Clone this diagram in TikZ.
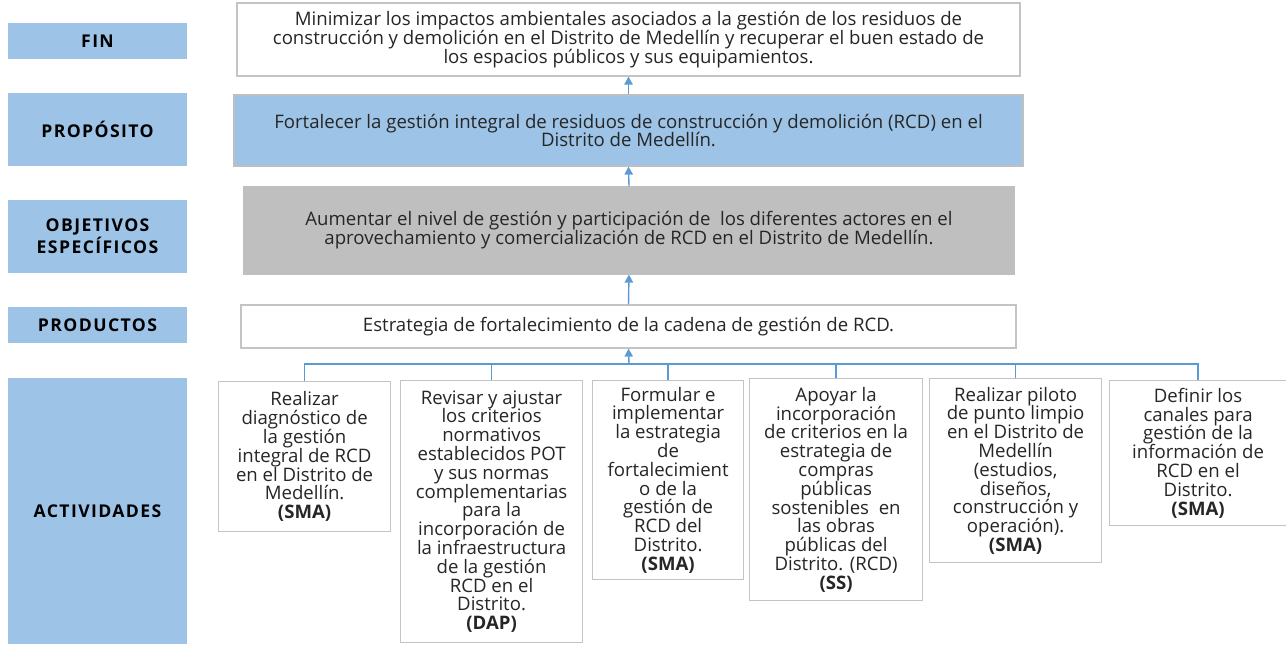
\documentclass[tikz,border=0pt]{standalone}
\usepackage{fontspec}
\setmainfont{Open Sans}
\newfontfamily\etiqfont[LetterSpace=8]{Open Sans}
\usepackage{xcolor}
\usepackage{tikz}
\usetikzlibrary{arrows.meta,positioning}
\definecolor{azulx}{HTML}{9DC3E6}
\definecolor{lineax}{HTML}{5B9BD5}
\definecolor{grisx}{HTML}{BFBFBF}
\definecolor{bordex}{HTML}{C4C4C4}
\definecolor{textox}{HTML}{262626}
\tikzset{
  flecha/.style={-{Triangle[length=4pt,width=4.2pt]},line width=0.7pt,lineax},
  linea/.style={line width=0.7pt,lineax},
  etiqueta/.style={fill=azulx,align=center,inner sep=0pt,minimum width=89.5pt,
    font=\etiqfont\bfseries\fontsize{8.8}{11}\selectfont,text=black},
  caja/.style={draw=bordex,line width=0.6pt,fill=white,align=center,inner sep=2pt,
    font=\fontsize{9.3}{9.4}\selectfont,text=textox},
  actividad/.style={caja,anchor=north west}
}
\begin{document}
\begin{tikzpicture}[x=0.5pt,y=-0.5pt]
\useasboundingbox (0,0) rectangle (1286,644);
% columna de niveles
\node[etiqueta,minimum height=18pt] (lfin) at (97.5,41) {FIN};
\node[etiqueta,minimum height=36.5pt] (lprop) at (97.5,129.5) {PROPÓSITO};
\node[etiqueta,minimum height=36.5pt] (lobj) at (97.5,236.5) {OBJETIVOS\\ESPECÍFICOS};
\node[etiqueta,minimum height=18pt] (lprod) at (97.5,325) {PRODUCTOS};
\node[etiqueta,minimum height=133pt] (lact) at (97.5,511) {ACTIVIDADES};
% cajas principales
\node[caja,minimum width=391.5pt,minimum height=36.5pt] (fin) at (628.5,39.5)
  {Minimizar los impactos ambientales asociados a la gestión de los residuos de\\
   construcción y demolición en el Distrito de Medellín y recuperar el buen estado de\\
   los espacios públicos y sus equipamientos.};
\node[caja,fill=azulx,draw=grisx,minimum width=394.5pt,minimum height=35.5pt] (prop) at (628.5,130.5)
  {Fortalecer la gestión integral de residuos de construcción y demolición (RCD) en el\\
   Distrito de Medellín.};
\node[caja,fill=grisx,draw=grisx,minimum width=385pt,minimum height=43.5pt] (obj) at (629,230.5)
  {Aumentar el nivel de gestión y participación de \ los diferentes actores en el\\
   aprovechamiento y comercialización de RCD en el Distrito de Medellín.};
\node[caja,minimum width=387.5pt,minimum height=21.5pt] (prod) at (628.5,326.5)
  {Estrategia de fortalecimiento de la cadena de gestión de RCD.};
% actividades
\node[actividad,minimum width=86pt,minimum height=75pt] (a1) at (218,381)
  {Realizar\\diagnóstico de\\la gestión\\integral de RCD\\en el Distrito de\\Medellín.\\\textbf{(SMA)}};
\node[actividad,minimum width=91pt,minimum height=131pt] (a2) at (400,380)
  {Revisar y ajustar\\los criterios\\normativos\\establecidos POT\\y sus normas\\complementarias\\para la\\
   incorporación de\\la infraestructura\\de la gestión\\RCD en el\\Distrito.\\\textbf{(DAP)}};
\node[actividad,minimum width=75.5pt,minimum height=99.5pt] (a3) at (592,380)
  {Formular e\\implementar\\la estrategia\\de\\fortalecimient\\o de la\\gestión de\\RCD del\\Distrito.\\\textbf{(SMA)}};
\node[actividad,minimum width=86.5pt,minimum height=111pt] (a4) at (749,378)
  {Apoyar la\\incorporación\\de criterios en la\\estrategia de\\compras\\públicas\\sostenibles \ en\\
   las obras\\públicas del\\Distrito. (RCD)\\\textbf{(SS)}};
\node[actividad,minimum width=86pt,minimum height=92pt] (a5) at (929,378)
  {Realizar piloto\\de punto limpio\\en el Distrito de\\Medellín\\(estudios,\\diseños,\\construcción y\\operación).\\\textbf{(SMA)}};
\node[actividad,minimum width=88.5pt,minimum height=72.5pt] (a6) at (1109,380)
  {Definir los\\canales para\\gestión de la\\información de\\RCD en el\\Distrito.\\\textbf{(SMA)}};
% conectores
\coordinate (bus) at (629,364);
\draw[linea] (a1.north) |- (bus) -| (a6.north);
\foreach \n in {a2,a3,a4,a5}
  \draw[linea] (\n.north) -- (\n.north |- bus);
\draw[flecha] (bus) -- (prod.south);
\draw[flecha] (prod.north) -- (obj.south);
\draw[flecha] (obj.north) -- (prop.south);
\draw[flecha] (prop.north) -- (fin.south);
\end{tikzpicture}
\end{document}
